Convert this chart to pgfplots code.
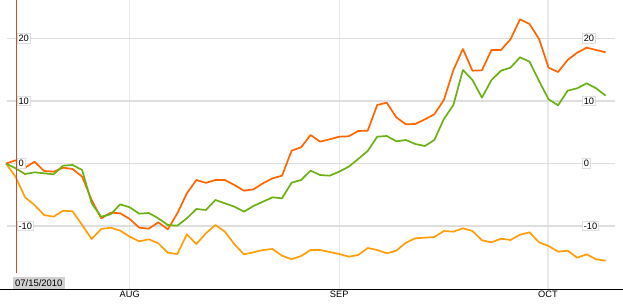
\documentclass[border=0pt]{standalone}
\usepackage{pgfplots}
\usepackage{pgfplotstable}
\pgfplotsset{compat=1.18}
\usepackage{fontspec}
\setmainfont{Liberation Sans}
\definecolor{cRed}{RGB}{255,102,0}
\definecolor{cGreen}{RGB}{108,176,20}
\definecolor{cOrange}{RGB}{255,158,10}
\definecolor{gridc}{RGB}{222,222,222}
\definecolor{vgridc}{RGB}{232,232,232}
\definecolor{markline}{RGB}{196,80,40}
\definecolor{boxc}{RGB}{208,208,208}
\pgfplotstableread{
i r g o
0 0 0 0
1 0.51 -0.77 -2.11
2 -0.67 -1.68 -5.41
3 0.29 -1.41 -6.64
4 -1.2 -1.57 -8.24
5 -1.31 -1.73 -8.51
6 -0.67 -0.35 -7.55
7 -0.88 -0.24 -7.65
8 -2.11 -1.04 -9.84
9 -5.84 -6.37 -12.08
10 -8.77 -8.51 -10.48
11 -7.87 -8.13 -10.27
12 -7.97 -6.53 -10.75
13 -8.88 -7.01 -11.71
14 -10.27 -8.03 -12.45
15 -10.43 -7.92 -12.13
16 -9.41 -8.77 -12.77
17 -10.53 -9.84 -14.27
18 -7.97 -9.95 -14.48
19 -4.77 -8.77 -11.33
20 -2.64 -7.28 -12.88
21 -3.1 -7.44 -11.17
22 -2.64 -5.84 -9.84
23 -2.64 -6.37 -10.91
24 -3.44 -6.91 -12.93
25 -4.35 -7.71 -14.53
26 -4.13 -6.8 -14.21
27 -3.17 -6.11 -13.84
28 -2.37 -5.41 -13.68
29 -1.95 -5.57 -14.75
30 2.05 -3.07 -15.33
31 2.59 -2.64 -14.8
32 4.56 -1.15 -13.84
33 3.49 -1.84 -13.84
34 3.87 -1.95 -14.16
35 4.29 -1.31 -14.48
36 4.35 -0.51 -14.91
37 5.2 0.72 -14.64
38 5.25 2.0 -13.52
39 9.36 4.29 -13.84
40 9.73 4.4 -14.37
41 7.39 3.55 -13.95
42 6.27 3.76 -12.67
43 6.32 3.12 -11.97
44 7.07 2.8 -11.87
45 7.87 3.76 -11.76
46 10.16 7.12 -10.8
47 14.96 9.36 -10.91
48 18.32 14.96 -10.37
49 14.85 13.36 -10.8
50 14.91 10.53 -12.29
51 18.16 13.36 -12.61
52 18.16 14.85 -12.03
53 19.87 15.33 -12.24
54 23.07 16.99 -11.39
55 22.32 16.29 -11.01
56 19.92 13.2 -12.61
57 15.33 10.27 -13.2
58 14.64 9.31 -14.11
59 16.56 11.65 -13.95
60 17.73 12.03 -15.07
61 18.53 12.83 -14.53
62 18.16 12.03 -15.33
63 17.79 10.85 -15.55
}\data
\begin{document}
\begin{tikzpicture}[x=1bp,y=1bp]
\path[use as bounding box] (0,-17) rectangle (623,289);
\begin{axis}[
  at={(0,0)}, anchor=south west,
  width=623bp, height=289bp, scale only axis,
  xmin=-0.63, xmax=64.82, ymin=-20.08, ymax=26.16,
  axis x line*=bottom, axis y line=none,
  axis line style={black, line width=0.8bp},
  xtick={13,35,56.94}, xticklabels={AUG,SEP,OCT},
  major tick length=0pt,
  xmajorgrids, grid style={vgridc, line width=1.2bp},
  ytick=\empty,
  xticklabel style={font=\fontsize{9.3}{10}\selectfont, yshift=1bp},
  clip=false,
]
\foreach \v in {-10,0,10,20} {
  \edef\temp{\noexpand\draw[gridc, line width=1.2bp] (axis cs:0.105,\v) -- (axis cs:63.98,\v);}
  \temp
}
\addplot[cOrange, line width=1.7bp, line join=round] table[x=i,y=o] {\data};
\addplot[cRed, line width=1.7bp, line join=round] table[x=i,y=r] {\data};
\addplot[cGreen, line width=1.7bp, line join=round] table[x=i,y=g] {\data};
\foreach \v in {-10,0,10,20} {
  \edef\temp{\noexpand\node[draw=gridc, fill=white, inner xsep=1.5bp, inner ysep=1.5bp, anchor=west, font=\noexpand\fontsize{9.3}{10}\noexpand\selectfont, line width=0.8bp] at (axis cs:1.12,\v) {\v};}
  \temp
  \edef\temp{\noexpand\node[draw=gridc, fill=white, inner xsep=1.5bp, inner ysep=1.5bp, anchor=west, font=\noexpand\fontsize{9.3}{10}\noexpand\selectfont, line width=0.8bp] at (axis cs:60.5,\v) {\v};}
  \temp
}
\draw[markline, line width=1bp] (axis cs:1.155,26.16) -- (axis cs:1.155,-17.5);
\node[fill=boxc, anchor=south west, inner xsep=2bp, inner ysep=2.5bp, font=\fontsize{9.5}{10}\selectfont] at (axis cs:0.73,-20.08) {07/15/2010};
\end{axis}
\end{tikzpicture}
\end{document}
